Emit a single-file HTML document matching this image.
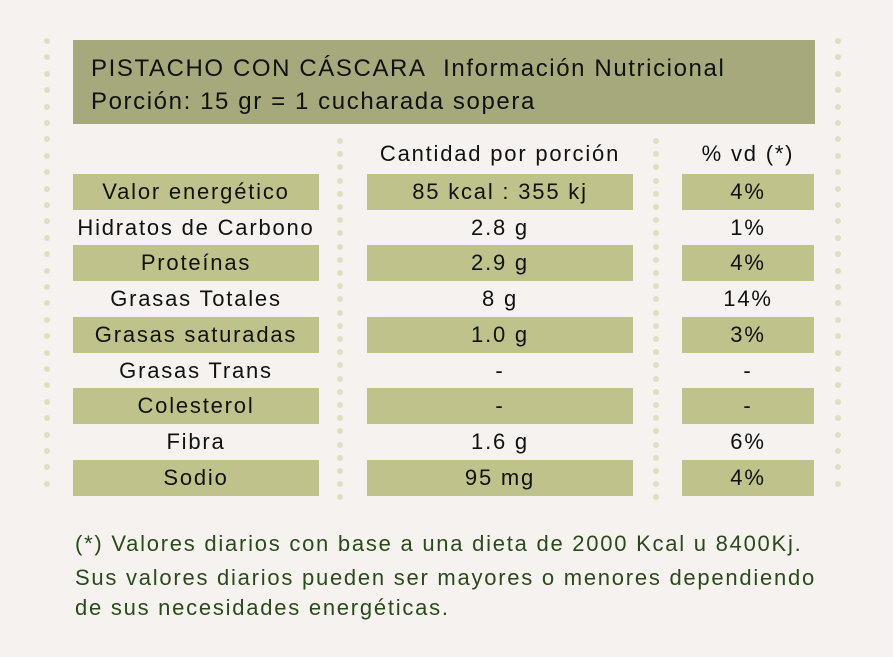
<!DOCTYPE html>
<html><head><meta charset="utf-8"><style>
body{margin:0;width:893px;height:657px;background:#f5f2ef;font-family:"Liberation Sans",sans-serif;position:relative;overflow:hidden}
.a{position:absolute}
.hdr{left:73px;top:40px;width:742px;height:84px;background:#a6a97b;color:#111}
.hdr div{position:absolute;left:18px;font-size:24px;letter-spacing:1.6px;white-space:nowrap}
.bar{background:#bfc38b}
.c{position:absolute;text-align:center;font-size:22px;letter-spacing:1.8px;color:#111;line-height:36px;height:36px;white-space:nowrap}
.dot{position:absolute;width:6px;height:6px;border-radius:50%;background:#dde0bf}
.foot{left:75px;color:#2a4a1b;font-size:22px;letter-spacing:1.75px;white-space:nowrap}
</style></head><body>
<div class="a hdr">
<div style="top:15px">PISTACHO CON CÁSCARA&nbsp; Información Nutricional</div>
<div style="top:48px">Porción: 15 gr = 1 cucharada sopera</div>
</div>
<div class="c" style="left:367px;width:266px;top:136px">Cantidad por porción</div>
<div class="c" style="left:682px;width:132px;top:136px">% vd (*)</div>
<div id="rows"></div>
<div class="a foot" style="top:531px">(*) Valores diarios con base a una dieta de 2000 Kcal u 8400Kj.</div>
<div class="a foot" style="top:565px">Sus valores diarios pueden ser mayores o menores dependiendo</div>
<div class="a foot" style="top:595px">de sus necesidades energéticas.</div>
<script>
const names=["Valor energético","Hidratos de Carbono","Proteínas","Grasas Totales","Grasas saturadas","Grasas Trans","Colesterol","Fibra","Sodio"];
const amounts=["85 kcal : 355 kj","2.8 g","2.9 g","8 g","1.0 g","-","-","1.6 g","95 mg"];
const dvs=["4%","1%","4%","14%","3%","-","-","6%","4%"];
const cols=[[73,246],[367,266],[682,132]];
const b=document.body;
for(let i=0;i<names.length;i++){
 const top=174+i*35.7;
 [names[i],amounts[i],dvs[i]].forEach((t,j)=>{
  const d=document.createElement('div');
  d.className='c'+(i%2==0?' bar':'');
  d.style.left=cols[j][0]+'px';d.style.width=cols[j][1]+'px';d.style.top=top+'px';
  d.textContent=t;
  
  
  b.appendChild(d);
 });
}
function dots(x,y0,y1,step){
 for(let y=y0;y<=y1;y+=step){
  const d=document.createElement('div');
  d.className='dot';d.style.left=(x-3)+'px';d.style.top=(y-3)+'px';
  
  
  b.appendChild(d);
 }
}
dots(47,41,500,16.4);dots(838,41,500,16.4);dots(340,141,500,13.2);dots(656,141,500,13.2);
</script>
</body></html>
